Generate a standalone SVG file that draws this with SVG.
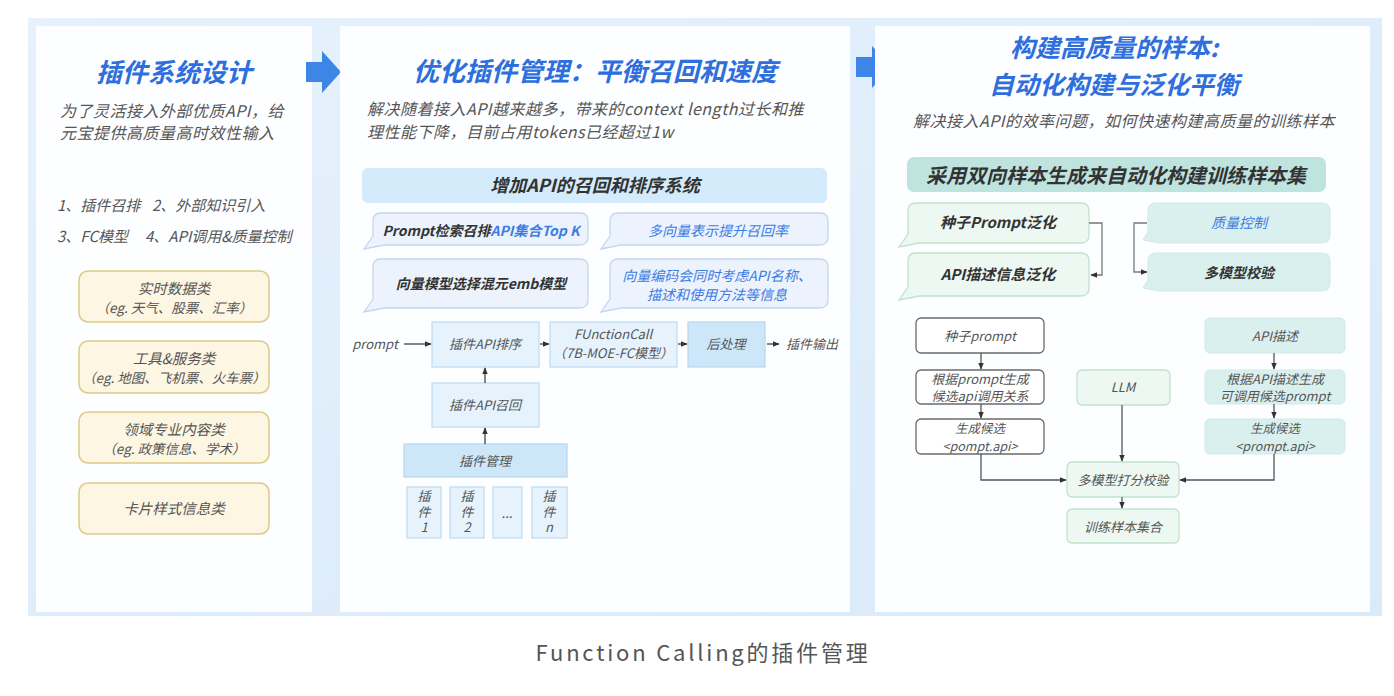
<svg xmlns="http://www.w3.org/2000/svg" width="1394" height="696" viewBox="0 0 1394 696">
<defs>
<marker id="ah" viewBox="0 0 10 10" refX="9" refY="5" markerWidth="7" markerHeight="7" markerUnits="userSpaceOnUse" orient="auto"><path d="M0,1 L10,5 L0,9 Z" fill="#333"/></marker>
<linearGradient id="bg" x1="0" y1="0" x2="1" y2="1"><stop offset="0" stop-color="#e6f1fc"/><stop offset="1" stop-color="#d9eaf9"/></linearGradient>
</defs>
<style>
text{font-family:"Noto Sans CJK SC","Noto Sans",sans-serif;fill:#4a4a4a;font-style:italic}
.ttl{font-size:26px;font-weight:700;fill:#2e6fdd;text-anchor:middle}
.desc{font-size:16px;fill:#555;letter-spacing:0.5px}
.lst{font-size:15px;fill:#555}
.yb{fill:#fdf6e2;stroke:#ddca86;stroke-width:1.5}
.yt{font-size:14.5px;fill:#555;text-anchor:middle}
.ys{font-size:13.5px}
.hb{fill:#d3ebfa}
.ht{font-size:18px;font-weight:700;fill:#333;text-anchor:middle}
.cb{fill:#edf3fd;stroke:#c4d6f1;stroke-width:1.3}
.ct{font-size:14px;font-weight:700;fill:#333;text-anchor:middle}
.cbl{fill:#3c7ce2}
.fb{fill:#e6f3fd;stroke:#bcdbf4;stroke-width:1.2}
.fbd{fill:#cde7f9;stroke:#b5d6f0;stroke-width:1.2}
.ft{font-size:13px;fill:#555;text-anchor:middle}
.vt{font-size:13px;fill:#555;text-anchor:middle;writing-mode:vertical-rl;text-orientation:upright;letter-spacing:2.5px}
.gb{fill:#eef8f2;stroke:#bfe3cc;stroke-width:1.3}
.tb{fill:#daf0ef;stroke:#cfe9e8;stroke-width:1}
.wb{fill:#fff;stroke:#6b6b6b;stroke-width:1.3}
.rt{font-size:13px;fill:#555;text-anchor:middle}
.rs{font-size:12.5px}
.ln{fill:none;stroke:#333;stroke-width:1.2}
.ln2{fill:none;stroke:#555;stroke-width:1.3}
.barrow{fill:#3d86e6}
</style>
<rect x="0" y="0" width="1394" height="696" fill="#ffffff"/>
<rect x="28" y="18" width="1354" height="598" fill="url(#bg)"/>

<g id="panel-left">
<rect x="36" y="26" width="276" height="586" fill="#fdfeff"/>
<text class="ttl" x="174" y="82">插件系统设计</text>
<text class="desc" x="60" y="117">为了灵活接入外部优质API，给</text>
<text class="desc" x="60" y="139">元宝提供高质量高时效性输入</text>
<text class="lst" x="57" y="211">1、插件召排</text>
<text class="lst" x="152" y="211">2、外部知识引入</text>
<text class="lst" x="57" y="242">3、FC模型</text>
<text class="lst" x="145" y="242">4、API调用&amp;质量控制</text>
</g>
<g id="cat1"><rect class="yb" x="79" y="271" width="190" height="51" rx="9"/><text class="yt" x="174" y="294">实时数据类</text><text class="yt ys" x="174" y="313">（eg. 天气、股票、汇率）</text></g>
<g id="cat2"><rect class="yb" x="79" y="341" width="190" height="52" rx="9"/><text class="yt" x="174" y="364">工具&amp;服务类</text><text class="yt ys" x="174" y="383">（eg. 地图、飞机票、火车票）</text></g>
<g id="cat3"><rect class="yb" x="79" y="412" width="190" height="51" rx="9"/><text class="yt" x="174" y="435">领域专业内容类</text><text class="yt ys" x="174" y="454">（eg. 政策信息、学术）</text></g>
<g id="cat4"><rect class="yb" x="79" y="483" width="190" height="51" rx="9"/><text class="yt" x="174" y="514">卡片样式信息类</text></g>

<g id="arrow1"><path class="barrow" d="M306,62 H322 V51 L341,72 L322,93 V82 H306 Z"/></g>
<g id="arrow2"><path class="barrow" d="M856,57 H872 V46 L892,67 L872,88 V77 H856 Z"/></g>

<g id="panel-mid">
<rect x="340" y="26" width="510" height="586" fill="#fdfeff"/>
<text class="ttl" x="595" y="81">优化插件管理：平衡召回和速度</text>
<text class="desc" x="367" y="115">解决随着接入API越来越多，带来的context length过长和推</text>
<text class="desc" x="367" y="138">理性能下降，目前占用tokens已经超过1w</text>
</g>
<g id="mid-header"><rect class="hb" x="362" y="168" width="465" height="35" rx="6"/><text class="ht" x="595" y="192">增加API的召回和排序系统</text></g>
<g id="c1"><path class="cb" d="M381,213 H580 Q588,213 588,221 V237 Q588,245 580,245 H384 L364,249 L373,236 V221 Q373,213 381,213 Z"/><text class="ct" x="481" y="236">Prompt检索召排<tspan class="cbl">API集合Top K</tspan></text></g>
<g id="c2"><path class="cb" d="M618,213 H820 Q828,213 828,221 V237 Q828,245 820,245 H621 L601,249 L610,236 V221 Q610,213 618,213 Z"/><text class="ct cbl" x="718" y="236" style="font-weight:400">多向量表示提升召回率</text></g>
<g id="c3"><path class="cb" d="M381,259 H580 Q588,259 588,267 V300 Q588,308 580,308 H384 L364,312 L373,299 V267 Q373,259 381,259 Z"/><text class="ct" x="481" y="289">向量模型选择混元emb模型</text></g>
<g id="c4"><path class="cb" d="M618,259 H820 Q828,259 828,267 V300 Q828,308 820,308 H621 L601,312 L610,299 V267 Q610,259 618,259 Z"/><text class="ct cbl" x="717" y="281" style="font-weight:400">向量编码会同时考虑API名称、</text><text class="ct cbl" x="717" y="300" style="font-weight:400">描述和使用方法等信息</text></g>

<g id="m-prompt"><text class="ft" x="375" y="349">prompt</text></g>
<g id="m-sort"><rect class="fb" x="432" y="322" width="107" height="45"/><text class="ft" x="485" y="349">插件API排序</text></g>
<g id="m-fc"><rect class="fb" x="550" y="322" width="127" height="45"/><text class="ft" x="613" y="339">FUnctionCall</text><text class="ft" x="613" y="358">（7B-MOE-FC模型）</text></g>
<g id="m-post"><rect class="fbd" x="688" y="322" width="77" height="45"/><text class="ft" x="726" y="349">后处理</text></g>
<g id="m-out"><text class="ft" x="812" y="349">插件输出</text></g>
<g id="m-recall"><rect class="fb" x="432" y="383" width="107" height="44"/><text class="ft" x="485" y="410">插件API召回</text></g>
<g id="m-mgr"><rect class="fbd" x="404" y="444" width="163" height="33"/><text class="ft" x="485" y="466">插件管理</text></g>
<g id="m-p1"><rect class="fb" x="407" y="487" width="34" height="51"/><text class="vt" x="424" y="513">插件1</text></g>
<g id="m-p2"><rect class="fb" x="450" y="487" width="34" height="51"/><text class="vt" x="467" y="513">插件2</text></g>
<g id="m-pd"><rect class="fb" x="493" y="487" width="29" height="51"/><text class="ft" x="507" y="518">...</text></g>
<g id="m-pn"><rect class="fb" x="532" y="487" width="35" height="51"/><text class="vt" x="549" y="513">插件n</text></g>

<g id="panel-right">
<rect x="875" y="26" width="495" height="586" fill="#fdfeff"/>
<text class="ttl" x="1114" y="57" style="font-size:25px">构建高质量的样本:</text>
<text class="ttl" x="1114" y="94" style="font-size:25px">自动化构建与泛化平衡</text>
<text class="desc" x="913" y="127">解决接入API的效率问题，如何快速构建高质量的训练样本</text>
</g>
<g id="r-header"><rect x="907" y="157" width="419" height="35" rx="7" fill="#bfe4e0"/><text class="ht" x="1116" y="183" style="font-size:20px">采用双向样本生成来自动化构建训练样本集</text></g>
<g id="r-c1"><path class="gb" d="M916,203 H1081 Q1089,203 1089,211 V235 Q1089,243 1081,243 H919 L899,247 L908,234 V211 Q908,203 916,203 Z"/><text class="ct" x="998" y="228" style="font-size:15px">种子Prompt泛化</text></g>
<g id="r-c2"><path class="gb" d="M916,253 H1081 Q1089,253 1089,261 V288 Q1089,296 1081,296 H919 L899,300 L908,287 V261 Q908,253 916,253 Z"/><text class="ct" x="998" y="280" style="font-size:15px">API描述信息泛化</text></g>
<g id="r-c3"><path class="tb" d="M1156,203 H1322 Q1330,203 1330,211 V235 Q1330,243 1322,243 H1159 L1143,240 L1148,232 V211 Q1148,203 1156,203 Z"/><text class="ct cbl" x="1239" y="228" style="font-weight:400">质量控制</text></g>
<g id="r-c4"><path class="tb" d="M1156,253 H1322 Q1330,253 1330,261 V283 Q1330,291 1322,291 H1159 L1143,288 L1148,280 V261 Q1148,253 1156,253 Z"/><text class="ct" x="1239" y="278">多模型校验</text></g>

<g id="r-seed"><rect class="wb" x="916" y="318" width="128" height="35" rx="5"/><text class="rt" x="980" y="341">种子prompt</text></g>
<g id="r-gen1"><rect class="wb" x="916" y="370" width="128" height="34" rx="5"/><text class="rt" x="980" y="384">根据prompt生成</text><text class="rt" x="980" y="401">候选api调用关系</text></g>
<g id="r-cand1"><rect class="wb" x="916" y="419" width="128" height="35" rx="5"/><text class="rt rs" x="980" y="433">生成候选</text><text class="rt rs" x="980" y="451">&lt;pompt.api&gt;</text></g>
<g id="r-llm"><rect class="gb" x="1077" y="370" width="93" height="35" rx="5"/><text class="rt" x="1123" y="392">LLM</text></g>
<g id="r-score"><rect class="gb" x="1067" y="462" width="112" height="35" rx="5"/><text class="rt" x="1123" y="485">多模型打分校验</text></g>
<g id="r-train"><rect class="gb" x="1067" y="509" width="112" height="34" rx="5"/><text class="rt" x="1123" y="532">训练样本集合</text></g>
<g id="r-api"><rect class="tb" x="1205" y="318" width="140" height="35" rx="5"/><text class="rt" x="1275" y="341">API描述</text></g>
<g id="r-gen2"><rect class="tb" x="1205" y="370" width="140" height="34" rx="5"/><text class="rt" x="1275" y="384">根据API描述生成</text><text class="rt" x="1275" y="401">可调用候选prompt</text></g>
<g id="r-cand2"><rect class="tb" x="1205" y="419" width="140" height="35" rx="5"/><text class="rt rs" x="1275" y="433">生成候选</text><text class="rt rs" x="1275" y="451">&lt;prompt.api&gt;</text></g>

<g id="connectors">
<line class="ln" x1="404" y1="344" x2="431" y2="344" marker-end="url(#ah)"/>
<line class="ln" x1="540" y1="344" x2="549" y2="344" marker-end="url(#ah)"/>
<line class="ln" x1="678" y1="344" x2="687" y2="344" marker-end="url(#ah)"/>
<line class="ln" x1="767" y1="344" x2="779" y2="344" marker-end="url(#ah)"/>
<line class="ln" x1="485" y1="383" x2="485" y2="368" marker-end="url(#ah)"/>
<line class="ln" x1="485" y1="444" x2="485" y2="428" marker-end="url(#ah)"/>
<path class="ln2" d="M1089,223 H1102 V275 H1091" marker-end="url(#ah)" style="stroke:#777"/>
<path class="ln2" d="M1147,223 H1134 V272 H1147" marker-end="url(#ah)" style="stroke:#777"/>
<line class="ln2" x1="981" y1="353" x2="981" y2="369" marker-end="url(#ah)"/>
<line class="ln2" x1="981" y1="404" x2="981" y2="418" marker-end="url(#ah)"/>
<path class="ln2" d="M981,454 V480 H1066" marker-end="url(#ah)"/>
<line class="ln2" x1="1122" y1="405" x2="1122" y2="461" marker-end="url(#ah)"/>
<line class="ln2" x1="1122" y1="497" x2="1122" y2="508" marker-end="url(#ah)"/>
<line class="ln2" x1="1274" y1="353" x2="1274" y2="369" marker-end="url(#ah)"/>
<line class="ln2" x1="1274" y1="404" x2="1274" y2="418" marker-end="url(#ah)"/>
<path class="ln2" d="M1274,454 V480 H1180" marker-end="url(#ah)"/>
</g>

<g id="caption"><text x="703" y="661" text-anchor="middle" style="font-size:22px;font-style:normal;fill:#555;letter-spacing:2.8px">Function Calling的插件管理</text></g>
</svg>
